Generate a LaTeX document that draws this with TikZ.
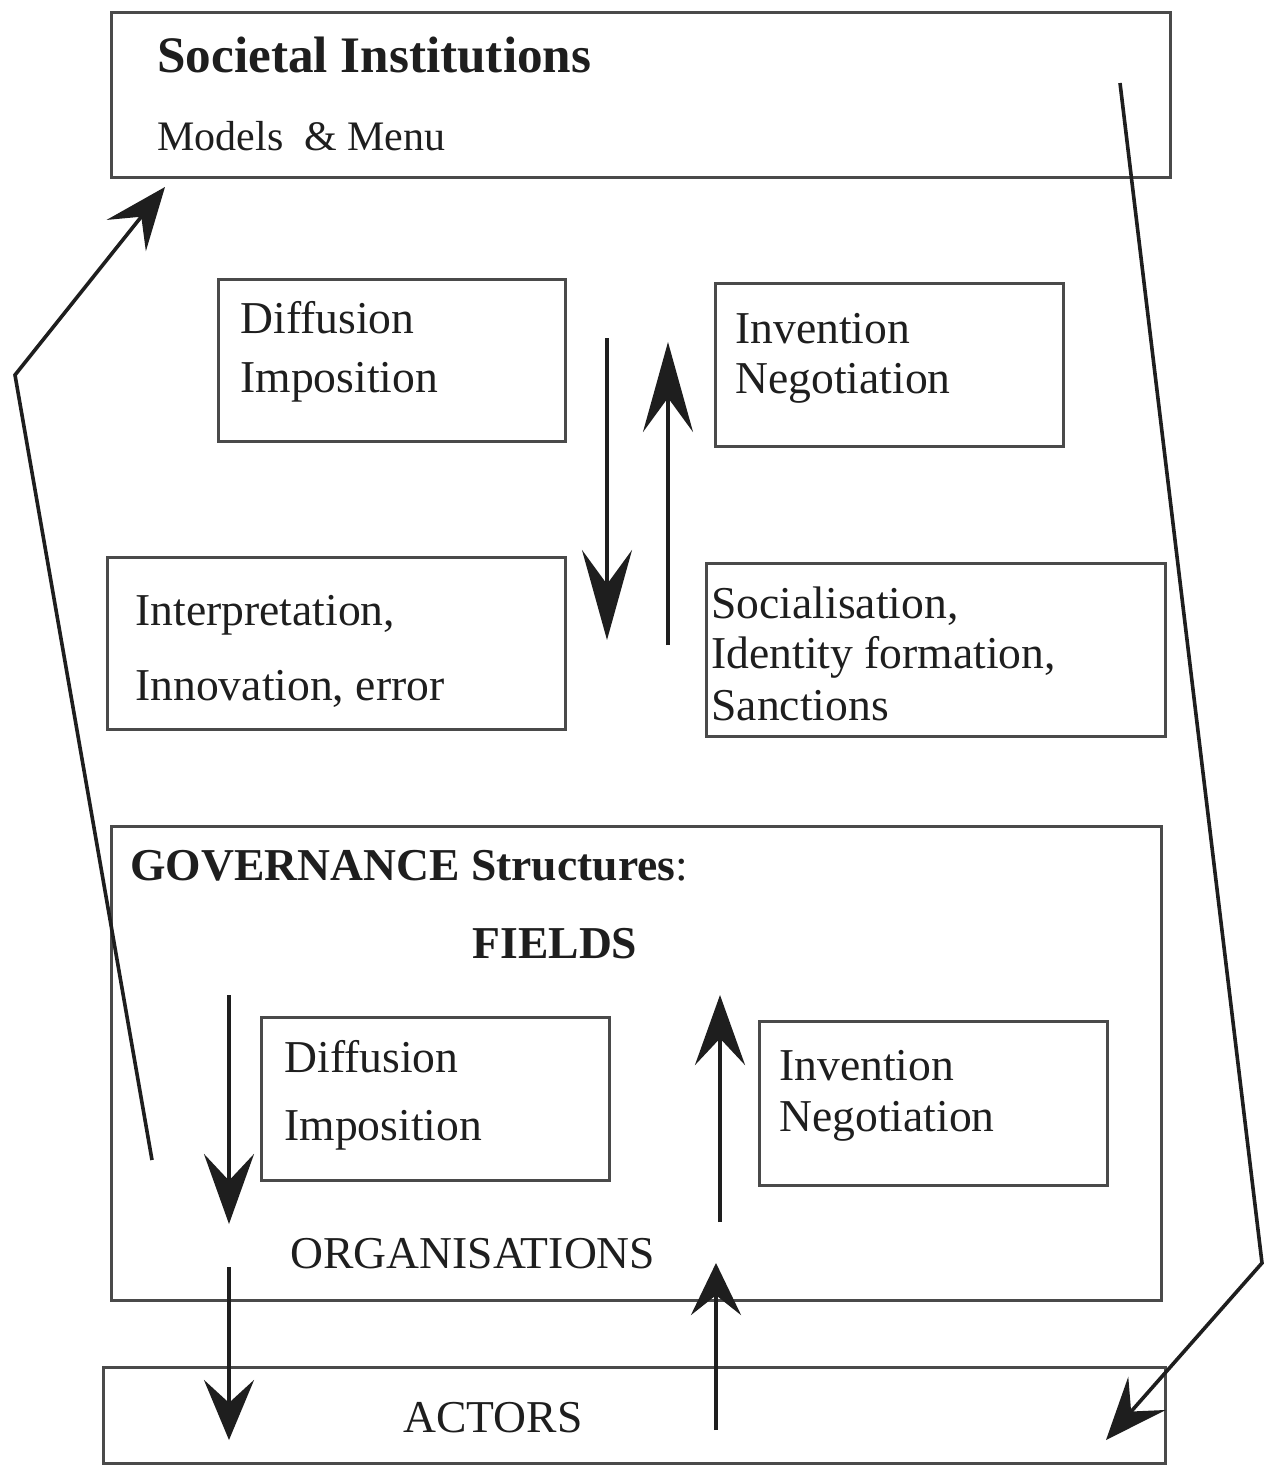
\documentclass[tikz,border=0pt]{standalone}
\usepackage{fontspec}
\setmainfont{Liberation Serif}
\usetikzlibrary{arrows.meta,fit}
\definecolor{frame}{HTML}{4A4A4A}
\definecolor{ink}{HTML}{1E1E1E}
\begin{document}
\begin{tikzpicture}[x=0.5pt,y=-0.5pt,
  box/.style={draw=frame,line width=1.5pt,inner sep=0pt,fit={#1}},
  txt/.style={inner sep=0pt,anchor=base west,text=ink,font=\fontsize{22.8pt}{27pt}\selectfont},
  head/.style={-{Stealth[length=#1,width=25pt,inset=0.38*#1]}},
  arr/.style={draw=ink,line width=2.2pt},
  link/.style={draw=ink,line width=1.8pt,line join=miter,-{Stealth[length=31pt,width=25pt,inset=12pt]}}]
\useasboundingbox (0,0) rectangle (1265,1467);

% outer frames
\node[box={(111,12) (1170,177)}] (soc) {};
\node[box={(218,279) (565,441)}] (dif1) {};
\node[box={(715,283) (1063,446)}] (inv1) {};
\node[box={(107,557) (565,729)}] (int) {};
\node[box={(706,563) (1165,736)}] (sla) {};
\node[box={(111,826) (1161,1300)}] (gov) {};
\node[box={(261,1017) (609,1180)}] (dif2) {};
\node[box={(759,1021) (1107,1185)}] (inv2) {};
\node[box={(103,1367) (1165,1463)}] (act) {};

% texts
\node[txt,font=\fontsize{25.6pt}{30pt}\selectfont\bfseries] (tsoc) at (157,72) {Societal Institutions};
\node[txt,font=\fontsize{21pt}{25pt}\selectfont] (tmod) at (157,150) {Models\ \ \& Menu};
\node[txt] (td1) at (240,333) {Diffusion};
\node[txt] (ti1) at (240,392) {Imposition};
\node[txt] (tv1) at (735,343) {Invention};
\node[txt] (tn1) at (735,393) {Negotiation};
\node[txt] (tint) at (135,625) {Interpretation,};
\node[txt] (tinn) at (135,700) {Innovation, error};
\node[txt] (tsoc1) at (711,618) {Socialisation,};
\node[txt] (tsoc2) at (711,668) {Identity formation,};
\node[txt] (tsoc3) at (711,720) {Sanctions};
\node[txt] (tgov) at (130,880) {\textbf{GOVERNANCE Structures}:};
\node[txt,anchor=base] (tfld) at (555,958) {\textbf{FIELDS}};
\node[txt] (td2) at (284,1072) {Diffusion};
\node[txt] (ti2) at (284,1140) {Imposition};
\node[txt] (tv2) at (779,1080) {Invention};
\node[txt] (tn2) at (779,1131) {Negotiation};
\node[txt] (torg) at (290,1268) {ORGANISATIONS};
\node[txt] (tact) at (403,1432) {ACTORS};

% arrow end points
\coordinate (a1s) at (607,338);  \coordinate (a1e) at (607,640);
\coordinate (a2s) at (668,645);  \coordinate (a2e) at (668,342);
\coordinate (a3s) at (229,995);  \coordinate (a3e) at (229,1224);
\coordinate (a4s) at (720,1222); \coordinate (a4e) at (720,995);
\coordinate (a5s) at (229,1267); \coordinate (a5e) at (229,1440);
\coordinate (a6s) at (716,1430); \coordinate (a6e) at (716,1263);
\coordinate (l1) at (152,1160); \coordinate (l2) at (15,375); \coordinate (l3) at (165,187);
\coordinate (r1) at (1120,83);  \coordinate (r2) at (1262,1263); \coordinate (r3) at (1106,1440);

% vertical arrows
\draw[arr,head=45pt] (a1s) -- (a1e);
\draw[arr,head=45pt] (a2s) -- (a2e);
\draw[arr,head=35pt] (a3s) -- (a3e);
\draw[arr,head=35pt] (a4s) -- (a4e);
\draw[arr,head=30pt] (a5s) -- (a5e);
\draw[arr,head=26pt] (a6s) -- (a6e);

% feedback loops
\draw[link] (l1) -- (l2) -- (l3);
\draw[link] (r1) -- (r2) -- (r3);
\end{tikzpicture}
\end{document}
